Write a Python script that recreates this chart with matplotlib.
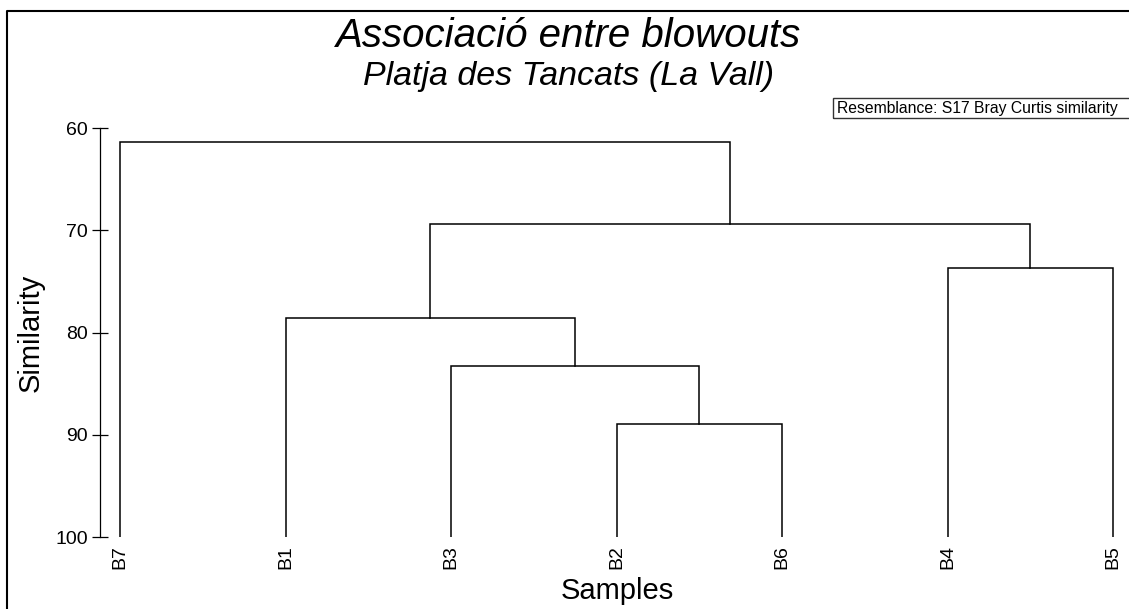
import matplotlib.pyplot as plt
from matplotlib.lines import Line2D
from matplotlib.patches import Rectangle

plt.rcParams['font.family'] = ['Liberation Sans', 'DejaVu Sans']

# leaf order along the x axis
leaves = ['B7', 'B1', 'B3', 'B2', 'B6', 'B4', 'B5']

# merges: (left, right, similarity) - ints refer to earlier merges
merge_left = ['B2', 'B3', 'B1', 'B4', 2, 'B7']
merge_right = ['B6', 0, 1, 'B5', 3, 4]
merge_height = [88.9, 83.3, 78.6, 73.7, 69.4, 61.4]

yticks = [60, 70, 80, 90, 100]

W, H = 1129, 609
fig = plt.figure(figsize=(W / 100, H / 100), dpi=100)
ax = fig.add_axes([100 / W, 1 - 537 / H, (1125 - 100) / W, (537 - 128) / H])

leaf_x = {name: i for i, name in enumerate(leaves)}
node_x = []
node_y = []


def pos(n):
    if isinstance(n, str):
        return leaf_x[n], 100
    return node_x[n], node_y[n]


for l, r, h in zip(merge_left, merge_right, merge_height):
    xl, yl = pos(l)
    xr, yr = pos(r)
    ax.plot([xl, xl, xr, xr], [yl, h, h, yr], color='black', lw=1.1,
            solid_joinstyle='miter')
    node_x.append((xl + xr) / 2)
    node_y.append(h)

ax.set_ylim(100, 60)
ax.set_xlim(-20 / 165.5, 6 + 12 / 165.5)
ax.set_yticks(yticks)
ax.set_yticklabels([str(t) for t in yticks], fontsize=14)
ax.tick_params(axis='y', direction='inout', length=11.5, width=0.9, pad=3)
ax.set_xticks(range(len(leaves)))
ax.set_xticklabels(leaves, rotation=90, fontsize=14, va='top')
ax.tick_params(axis='x', length=0, pad=6)
for s in ['top', 'right', 'bottom']:
    ax.spines[s].set_visible(False)
ax.spines['left'].set_linewidth(0.9)

fig.text(31 / W, 1 - 333 / H, 'Similarity', rotation=90, fontsize=21,
         ha='center', va='center')
fig.text(617 / W, 1 - 591 / H, 'Samples', fontsize=21, ha='center', va='center')

fig.text(569 / W, 1 - 36 / H, 'Associació entre blowouts', fontsize=29,
         style='italic', ha='center', va='center')
fig.text(569 / W, 1 - 76 / H, 'Platja des Tancats (La Vall)', fontsize=24.5,
         style='italic', ha='center', va='center')

# resemblance box
fig.patches.append(Rectangle((833 / W, 1 - 118 / H), 320 / W, 20 / H,
                             transform=fig.transFigure, fill=False,
                             edgecolor='#333333', lw=1))
fig.text(837 / W, 1 - 108 / H, 'Resemblance: S17 Bray Curtis similarity',
         fontsize=11.3, ha='left', va='center')

# outer frame (cut by the image edges)
fig.lines.append(Line2D([7 / W, 7 / W, 1.01], [-0.01, 1 - 11 / H, 1 - 11 / H],
                        transform=fig.transFigure, color='black', lw=1.5))

fig.savefig('out.png', dpi=100)
